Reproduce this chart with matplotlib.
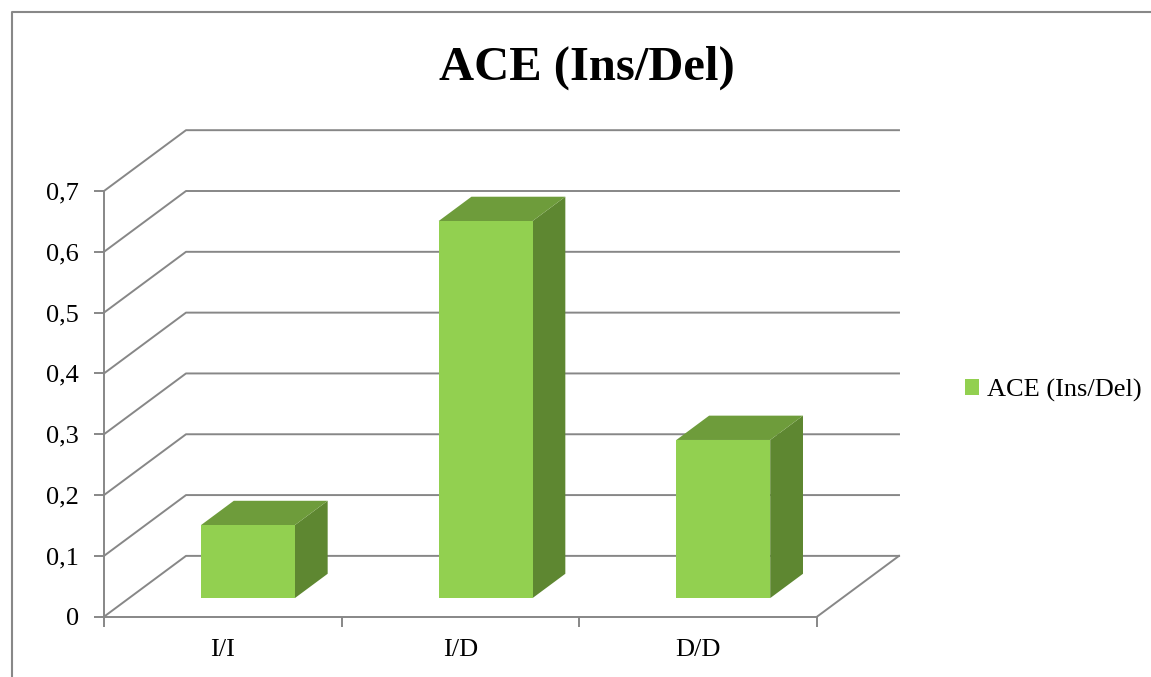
import matplotlib as mpl
mpl.use('Agg')
import matplotlib.pyplot as plt
from matplotlib.patches import Polygon, Patch
from matplotlib.lines import Line2D
import numpy as np

categories = ['I/I', 'I/D', 'D/D']
values = [0.12, 0.62, 0.26]
series_name = 'ACE (Ins/Del)'
y_ticks = [0, 0.1, 0.2, 0.3, 0.4, 0.5, 0.6, 0.7]
y_tick_labels = ['0', '0,1', '0,2', '0,3', '0,4', '0,5', '0,6', '0,7']

plt.rcParams['font.family'] = ['Liberation Serif', 'DejaVu Serif']

W, H = 1151, 677
fig = plt.figure(figsize=(W / 100, H / 100), dpi=100)

# front plane of the 3d box (pixel layout converted to figure fractions)
left, right, bottom, top = 104, 817, 616.7, 191
ax = fig.add_axes([left / W, 1 - bottom / H, (right - left) / W, (bottom - top) / H])
ax.set_xlim(-0.5, 2.5)
ax.set_ylim(0, 0.7)

# oblique depth offset, in data units
dx = 82 / ((right - left) / 3)
dy = 0.1

grid_col = '#878787'
lw = 1.4

# back wall gridlines + diagonals on the side wall
for v in y_ticks:
    ax.plot([-0.5, -0.5 + dx, 2.5 + dx], [v, v + dy, v + dy],
            color=grid_col, lw=lw, clip_on=False, zorder=1)
# floor: right diagonal
ax.plot([2.5, 2.5 + dx], [0, dy], color=grid_col, lw=lw, clip_on=False, zorder=1)

front_col = '#92D050'
top_col = '#6E9C3B'
side_col = '#5E8731'
half = 0.1975
d0, d1 = 0.306, 0.706

for i, v in enumerate(values):
    x0 = i - half + d0 * dx
    x1 = i + half + d0 * dx
    y0 = d0 * dy
    y1 = v + d0 * dy
    ox, oy = (d1 - d0) * dx, (d1 - d0) * dy
    side = Polygon([(x1, y0), (x1, y1), (x1 + ox, y1 + oy), (x1 + ox, y0 + oy)],
                   closed=True, facecolor=side_col, edgecolor='none', clip_on=False, zorder=3)
    topf = Polygon([(x0, y1), (x1, y1), (x1 + ox, y1 + oy), (x0 + ox, y1 + oy)],
                   closed=True, facecolor=top_col, edgecolor='none', clip_on=False, zorder=3)
    front = Polygon([(x0, y0), (x1, y0), (x1, y1), (x0, y1)],
                    closed=True, facecolor=front_col, edgecolor='none', clip_on=False, zorder=4)
    for p in (side, topf, front):
        ax.add_patch(p)

for s in ('top', 'right'):
    ax.spines[s].set_visible(False)
for s in ('left', 'bottom'):
    ax.spines[s].set_color(grid_col)
    ax.spines[s].set_linewidth(lw)
    ax.spines[s].set_zorder(2)
ax.set_facecolor('none')

ax.set_yticks(y_ticks)
ax.set_yticklabels(y_tick_labels)
ax.set_xticks([-0.5, 0.5, 1.5, 2.5])
ax.set_xticklabels([])
ax.set_xticks(range(len(categories)), minor=True)
ax.set_xticklabels(categories, minor=True)
ax.tick_params(axis='y', length=7, width=lw, color=grid_col, labelsize=19, pad=11)
ax.tick_params(axis='x', which='major', length=7, width=lw, color=grid_col)
ax.tick_params(axis='x', which='minor', length=0, labelsize=19, pad=16)

fig.text(587 / W, 1 - 68 / H, series_name, ha='center', va='center',
         fontsize=35, fontweight='bold')

fig.legend(handles=[Patch(facecolor=front_col, edgecolor='none', label=series_name)],
           loc='center left', bbox_to_anchor=(941 / W, 1 - 390 / H), frameon=False,
           fontsize=19, handlelength=0.55, handleheight=0.55, handletextpad=0.3)

# outer chart border (left and top only)
fig.add_artist(Line2D([12 / W, 12 / W, 1], [0, 1 - 12 / H, 1 - 12 / H],
                      color='#888888', lw=1.5, transform=fig.transFigure))

fig.savefig('out.png', dpi=100)
